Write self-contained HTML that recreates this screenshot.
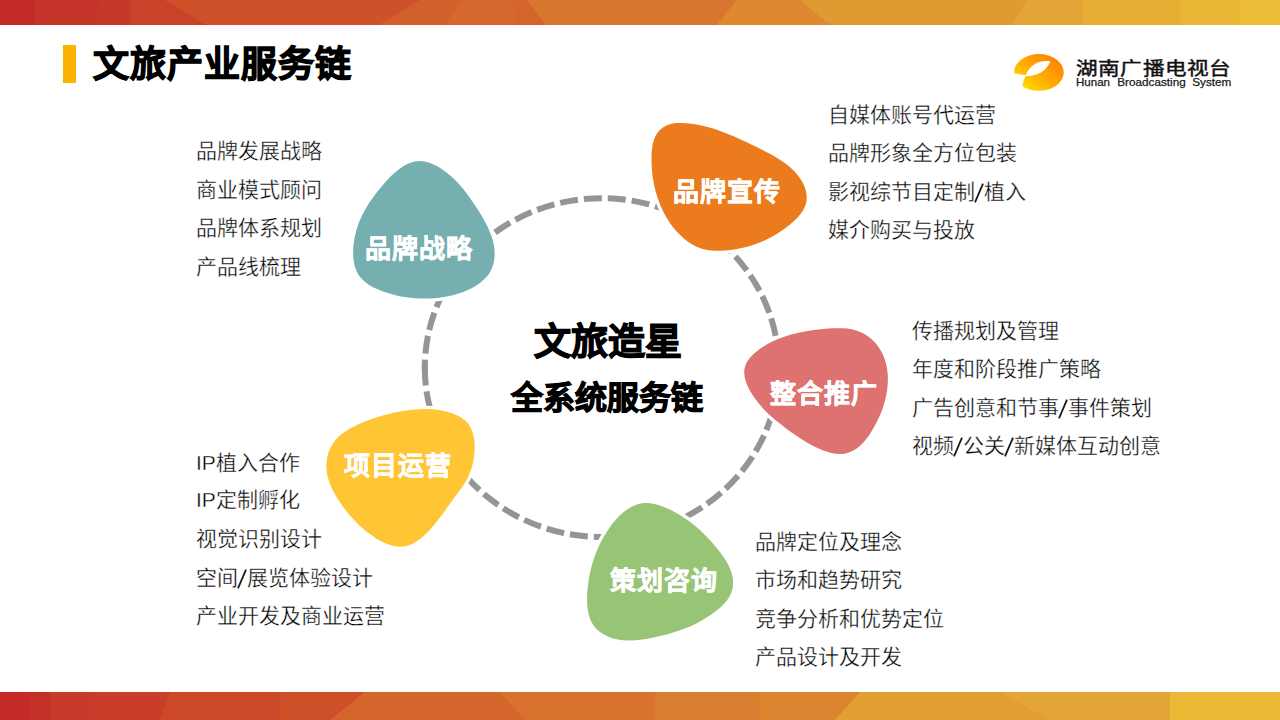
<!DOCTYPE html>
<html lang="zh-CN"><head><meta charset="utf-8"><title>文旅产业服务链</title>
<style>
html,body{margin:0;padding:0;}
body{width:1280px;height:720px;overflow:hidden;position:relative;background:#fff;font-family:"Liberation Sans",sans-serif;color:#111;}
.band{position:absolute;left:0;width:1280px;overflow:hidden;}
.li{position:absolute;font-size:21px;line-height:1.3;white-space:nowrap;color:#000;-webkit-text-stroke:0.35px #fff;}
.lb{position:absolute;font-size:26px;letter-spacing:1px;line-height:1.3;white-space:nowrap;color:#fff;font-weight:bold;-webkit-text-stroke:0.5px #fff;}
.sl{display:inline-block;width:9px;height:0;position:relative;}
.sl svg{position:absolute;left:-1px;top:-16px;}
.bt{position:absolute;left:0;font-weight:bold;line-height:1.3;color:#000;white-space:nowrap;}
svg{position:absolute;left:0;top:0;}
</style></head><body>
<svg width="1280" height="720" viewBox="0 0 1280 720" style="position:absolute;left:0;top:0" shape-rendering="crispEdges"><polygon points="0,0 36,0 36,24.5 0,24.5" fill="#C42B27"/><polygon points="35,0 101,0 96,24.5 35,24.5" fill="#C6352A"/><polygon points="100,0 131,0 131,24.5 95,24.5" fill="#C6392A"/><polygon points="130,0 166,0 206,24.5 130,24.5" fill="#C8432A"/><polygon points="165,0 421,0 381,24.5 205,24.5" fill="#CF5129"/><polygon points="420,0 463,0 446,24.5 380,24.5" fill="#D2602B"/><polygon points="462,0 512,0 517,24.5 445,24.5" fill="#D5682C"/><polygon points="511,0 528,0 546,24.5 516,24.5" fill="#D3652B"/><polygon points="527,0 738,0 718,24.5 545,24.5" fill="#D8752E"/><polygon points="737,0 801,0 831,24.5 717,24.5" fill="#DE8830"/><polygon points="800,0 1028,0 1014,24.5 830,24.5" fill="#E09A32"/><polygon points="1027,0 1084,0 1084,24.5 1013,24.5" fill="#E3A535"/><polygon points="1083,0 1181,0 1181,24.5 1083,24.5" fill="#E6AE34"/><polygon points="1180,0 1241,0 1241,24.5 1180,24.5" fill="#E9B735"/><polygon points="1240,0 1281,0 1281,24.5 1240,24.5" fill="#EBBC35"/></svg><svg width="1280" height="720" viewBox="0 0 1280 720" style="position:absolute;left:0;top:0" shape-rendering="crispEdges"><polygon points="0,692 31,692 31,720 0,720" fill="#C42B28"/><polygon points="30,692 51,692 51,720 30,720" fill="#C23028"/><polygon points="50,692 91,692 91,720 50,720" fill="#C83A2A"/><polygon points="90,692 171,692 161,720 90,720" fill="#C93E2A"/><polygon points="170,692 281,692 281,720 160,720" fill="#CC4A2A"/><polygon points="280,692 366,692 331,720 280,720" fill="#CE5029"/><polygon points="365,692 501,692 526,720 330,720" fill="#D4652B"/><polygon points="500,692 656,692 656,720 525,720" fill="#D7732D"/><polygon points="655,692 761,692 761,720 655,720" fill="#D97E30"/><polygon points="760,692 861,692 836,720 760,720" fill="#DC8530"/><polygon points="860,692 1001,692 1051,720 835,720" fill="#E29D33"/><polygon points="1000,692 1171,692 1171,720 1050,720" fill="#E3A535"/><polygon points="1170,692 1281,692 1281,720 1170,720" fill="#EAB935"/></svg>
<div style="position:absolute;left:63px;top:45px;width:13px;height:37.7px;background:#FDB100;"></div>
<div class="bt" style="left:93px;top:41.8px;font-size:36px;letter-spacing:1px;-webkit-text-stroke:1.2px #000;">文旅产业服务链</div>
<svg width="1280" height="720" viewBox="0 0 1280 720" style="position:absolute;left:0;top:0">
<defs><linearGradient id="lg" x1="1" y1="0" x2="0" y2="1"><stop offset="0" stop-color="#FF7400"/><stop offset="0.5" stop-color="#FFA800"/><stop offset="1" stop-color="#FFEF00"/></linearGradient></defs>
<ellipse cx="1038.9" cy="72.4" rx="24.8" ry="18.4" fill="url(#lg)"/>
<path d="M1050.5,61.3 C1044,60.2 1037,61.5 1031.5,66.5 C1028.5,69.5 1026.8,72.5 1025.6,75.3 L1014,73.2 L1008,72 L1008,92 L1022.4,86 C1023,82 1024,79 1025.3,76.2 C1030,76.3 1036,75.3 1041,72.5 C1045.5,69.8 1048.5,65.5 1050.5,61.3 Z" fill="#fff"/>
<text x="1076" y="75.2" font-size="18.5" textLength="155.4" lengthAdjust="spacingAndGlyphs" fill="#111" stroke="#111" stroke-width="0.45">湖南广播电视台</text>
<text x="1076" y="85.6" font-size="10.5" textLength="34" lengthAdjust="spacingAndGlyphs" fill="#1a1a1a" stroke="#1a1a1a" stroke-width="0.25">Hunan</text>
<text x="1117.3" y="85.6" font-size="10.5" textLength="68.4" lengthAdjust="spacingAndGlyphs" fill="#1a1a1a" stroke="#1a1a1a" stroke-width="0.25">Broadcasting</text>
<text x="1192.2" y="85.6" font-size="10.5" textLength="39.2" lengthAdjust="spacingAndGlyphs" fill="#1a1a1a" stroke="#1a1a1a" stroke-width="0.25">System</text>
</svg>
<svg width="1280" height="720" viewBox="0 0 1280 720">
<g fill="none" stroke="#959595" stroke-width="6" stroke-dasharray="18 6"><path d="M778.8,367.6 A177,169.4 0 0 1 424.8,367.6" stroke-dashoffset="2"/><path d="M424.8,367.6 A177,169.4 0 0 1 778.8,367.6" stroke-dashoffset="10"/><path d="M424.8,365.1 L424.8,370.1" stroke-dasharray="none"/></g>
<path d="M420.2,161.0 L424.7,161.5 L429.2,162.7 L433.7,164.5 L438.1,166.8 L442.4,169.6 L446.5,172.6 L450.4,175.8 L454.1,179.1 L457.5,182.5 L460.6,186.0 L463.7,189.6 L466.5,193.3 L469.3,197.0 L472.0,200.9 L474.7,204.9 L477.4,209.0 L480.1,213.2 L482.7,217.5 L485.1,221.9 L487.4,226.4 L489.5,230.9 L491.2,235.5 L492.7,240.1 L493.8,244.8 L494.5,249.5 L494.7,254.2 L494.4,259.0 L493.5,263.6 L492.0,268.1 L490.0,272.3 L487.2,276.2 L483.9,279.6 L480.2,282.7 L476.3,285.5 L472.1,287.9 L467.8,290.1 L463.3,292.0 L458.6,293.6 L453.9,295.0 L449.1,296.1 L444.2,297.0 L439.3,297.7 L434.4,298.2 L429.5,298.5 L424.7,298.6 L419.9,298.5 L415.2,298.2 L410.6,297.8 L405.9,297.2 L401.3,296.4 L396.6,295.4 L391.9,294.2 L387.1,292.8 L382.3,291.2 L377.6,289.3 L373.0,287.2 L368.7,284.7 L364.8,281.8 L361.4,278.6 L358.6,274.9 L356.5,270.9 L354.9,266.5 L353.8,261.8 L353.3,257.0 L353.1,252.0 L353.3,247.1 L353.9,242.1 L354.7,237.3 L355.8,232.6 L357.1,228.0 L358.6,223.5 L360.3,219.2 L362.3,214.9 L364.5,210.8 L366.8,206.7 L369.3,202.6 L372.1,198.7 L375.0,194.7 L378.0,190.8 L381.2,186.9 L384.6,183.1 L388.0,179.3 L391.6,175.6 L395.4,172.2 L399.3,169.0 L403.2,166.3 L407.3,164.1 L411.5,162.4 L415.8,161.3Z" fill="#fff" stroke="#fff" stroke-width="6.5" stroke-linejoin="round"/><path d="M420.2,161.0 L424.7,161.5 L429.2,162.7 L433.7,164.5 L438.1,166.8 L442.4,169.6 L446.5,172.6 L450.4,175.8 L454.1,179.1 L457.5,182.5 L460.6,186.0 L463.7,189.6 L466.5,193.3 L469.3,197.0 L472.0,200.9 L474.7,204.9 L477.4,209.0 L480.1,213.2 L482.7,217.5 L485.1,221.9 L487.4,226.4 L489.5,230.9 L491.2,235.5 L492.7,240.1 L493.8,244.8 L494.5,249.5 L494.7,254.2 L494.4,259.0 L493.5,263.6 L492.0,268.1 L490.0,272.3 L487.2,276.2 L483.9,279.6 L480.2,282.7 L476.3,285.5 L472.1,287.9 L467.8,290.1 L463.3,292.0 L458.6,293.6 L453.9,295.0 L449.1,296.1 L444.2,297.0 L439.3,297.7 L434.4,298.2 L429.5,298.5 L424.7,298.6 L419.9,298.5 L415.2,298.2 L410.6,297.8 L405.9,297.2 L401.3,296.4 L396.6,295.4 L391.9,294.2 L387.1,292.8 L382.3,291.2 L377.6,289.3 L373.0,287.2 L368.7,284.7 L364.8,281.8 L361.4,278.6 L358.6,274.9 L356.5,270.9 L354.9,266.5 L353.8,261.8 L353.3,257.0 L353.1,252.0 L353.3,247.1 L353.9,242.1 L354.7,237.3 L355.8,232.6 L357.1,228.0 L358.6,223.5 L360.3,219.2 L362.3,214.9 L364.5,210.8 L366.8,206.7 L369.3,202.6 L372.1,198.7 L375.0,194.7 L378.0,190.8 L381.2,186.9 L384.6,183.1 L388.0,179.3 L391.6,175.6 L395.4,172.2 L399.3,169.0 L403.2,166.3 L407.3,164.1 L411.5,162.4 L415.8,161.3Z" fill="#75AFAF"/>
<path d="M681.4,123.0 L686.5,123.2 L691.6,123.7 L696.6,124.5 L701.6,125.5 L706.5,126.7 L711.4,128.1 L716.1,129.6 L720.8,131.2 L725.3,132.9 L729.8,134.7 L734.2,136.6 L738.6,138.5 L742.9,140.5 L747.3,142.5 L751.7,144.7 L756.2,146.8 L760.7,149.1 L765.3,151.4 L769.8,153.8 L774.3,156.3 L778.7,158.9 L783.0,161.7 L787.1,164.7 L790.9,167.9 L794.4,171.3 L797.6,175.0 L800.5,178.9 L802.9,183.1 L804.9,187.6 L806.2,192.2 L806.8,196.8 L806.5,201.4 L805.3,205.8 L803.3,210.1 L800.5,214.1 L797.2,218.0 L793.4,221.6 L789.4,225.1 L785.2,228.3 L780.9,231.2 L776.7,234.0 L772.3,236.5 L768.0,238.8 L763.5,240.9 L759.0,242.7 L754.5,244.4 L749.9,245.9 L745.2,247.2 L740.4,248.3 L735.6,249.2 L730.7,249.9 L725.7,250.5 L720.7,250.8 L715.7,250.8 L710.7,250.5 L705.9,249.7 L701.1,248.5 L696.6,246.7 L692.2,244.5 L688.0,241.8 L684.1,238.7 L680.4,235.3 L676.9,231.7 L673.6,227.9 L670.6,223.9 L667.9,219.8 L665.3,215.5 L663.1,211.2 L661.0,206.7 L659.1,202.1 L657.5,197.5 L656.0,192.8 L654.8,188.0 L653.8,183.2 L652.9,178.4 L652.3,173.6 L651.8,168.7 L651.6,163.6 L651.5,158.5 L651.6,153.3 L652.1,148.2 L652.9,143.1 L654.4,138.4 L656.5,134.2 L659.3,130.5 L662.8,127.5 L666.9,125.2 L671.4,123.8 L676.3,123.1Z" fill="#fff" stroke="#fff" stroke-width="6.5" stroke-linejoin="round"/><path d="M681.4,123.0 L686.5,123.2 L691.6,123.7 L696.6,124.5 L701.6,125.5 L706.5,126.7 L711.4,128.1 L716.1,129.6 L720.8,131.2 L725.3,132.9 L729.8,134.7 L734.2,136.6 L738.6,138.5 L742.9,140.5 L747.3,142.5 L751.7,144.7 L756.2,146.8 L760.7,149.1 L765.3,151.4 L769.8,153.8 L774.3,156.3 L778.7,158.9 L783.0,161.7 L787.1,164.7 L790.9,167.9 L794.4,171.3 L797.6,175.0 L800.5,178.9 L802.9,183.1 L804.9,187.6 L806.2,192.2 L806.8,196.8 L806.5,201.4 L805.3,205.8 L803.3,210.1 L800.5,214.1 L797.2,218.0 L793.4,221.6 L789.4,225.1 L785.2,228.3 L780.9,231.2 L776.7,234.0 L772.3,236.5 L768.0,238.8 L763.5,240.9 L759.0,242.7 L754.5,244.4 L749.9,245.9 L745.2,247.2 L740.4,248.3 L735.6,249.2 L730.7,249.9 L725.7,250.5 L720.7,250.8 L715.7,250.8 L710.7,250.5 L705.9,249.7 L701.1,248.5 L696.6,246.7 L692.2,244.5 L688.0,241.8 L684.1,238.7 L680.4,235.3 L676.9,231.7 L673.6,227.9 L670.6,223.9 L667.9,219.8 L665.3,215.5 L663.1,211.2 L661.0,206.7 L659.1,202.1 L657.5,197.5 L656.0,192.8 L654.8,188.0 L653.8,183.2 L652.9,178.4 L652.3,173.6 L651.8,168.7 L651.6,163.6 L651.5,158.5 L651.6,153.3 L652.1,148.2 L652.9,143.1 L654.4,138.4 L656.5,134.2 L659.3,130.5 L662.8,127.5 L666.9,125.2 L671.4,123.8 L676.3,123.1Z" fill="#EC7B1E"/>
<path d="M823.4,329.0 L828.2,328.6 L833.0,328.3 L837.8,328.2 L842.5,328.2 L847.2,328.6 L851.7,329.3 L856.1,330.4 L860.4,331.9 L864.4,334.0 L868.3,336.5 L871.9,339.5 L875.2,342.8 L878.1,346.5 L880.7,350.5 L882.9,354.6 L884.6,359.0 L886.0,363.4 L886.9,368.0 L887.6,372.7 L887.9,377.4 L887.8,382.1 L887.5,386.8 L886.9,391.5 L886.1,396.1 L885.0,400.6 L883.8,405.0 L882.3,409.4 L880.6,413.7 L878.7,418.0 L876.6,422.2 L874.4,426.4 L872.0,430.6 L869.5,434.7 L866.7,438.6 L863.7,442.3 L860.3,445.6 L856.7,448.4 L852.9,450.8 L848.8,452.6 L844.5,453.7 L840.1,454.1 L835.6,453.8 L831.1,452.9 L826.5,451.6 L822.0,449.9 L817.6,448.0 L813.3,445.9 L809.1,443.7 L804.9,441.3 L800.8,438.8 L796.9,436.1 L793.0,433.4 L789.2,430.7 L785.4,427.9 L781.8,425.1 L778.2,422.3 L774.7,419.4 L771.3,416.5 L768.0,413.4 L764.7,410.2 L761.6,406.8 L758.6,403.2 L755.6,399.3 L752.8,395.2 L750.1,390.9 L747.8,386.4 L746.0,381.9 L744.7,377.3 L744.2,372.9 L744.5,368.7 L745.7,364.6 L747.7,360.8 L750.4,357.3 L753.6,353.9 L757.2,350.9 L761.1,348.0 L765.1,345.5 L769.3,343.1 L773.5,341.0 L777.8,339.1 L782.1,337.4 L786.5,335.9 L791.0,334.6 L795.5,333.5 L800.0,332.4 L804.6,331.6 L809.3,330.8 L814.0,330.1 L818.7,329.5Z" fill="#fff" stroke="#fff" stroke-width="6.5" stroke-linejoin="round"/><path d="M823.4,329.0 L828.2,328.6 L833.0,328.3 L837.8,328.2 L842.5,328.2 L847.2,328.6 L851.7,329.3 L856.1,330.4 L860.4,331.9 L864.4,334.0 L868.3,336.5 L871.9,339.5 L875.2,342.8 L878.1,346.5 L880.7,350.5 L882.9,354.6 L884.6,359.0 L886.0,363.4 L886.9,368.0 L887.6,372.7 L887.9,377.4 L887.8,382.1 L887.5,386.8 L886.9,391.5 L886.1,396.1 L885.0,400.6 L883.8,405.0 L882.3,409.4 L880.6,413.7 L878.7,418.0 L876.6,422.2 L874.4,426.4 L872.0,430.6 L869.5,434.7 L866.7,438.6 L863.7,442.3 L860.3,445.6 L856.7,448.4 L852.9,450.8 L848.8,452.6 L844.5,453.7 L840.1,454.1 L835.6,453.8 L831.1,452.9 L826.5,451.6 L822.0,449.9 L817.6,448.0 L813.3,445.9 L809.1,443.7 L804.9,441.3 L800.8,438.8 L796.9,436.1 L793.0,433.4 L789.2,430.7 L785.4,427.9 L781.8,425.1 L778.2,422.3 L774.7,419.4 L771.3,416.5 L768.0,413.4 L764.7,410.2 L761.6,406.8 L758.6,403.2 L755.6,399.3 L752.8,395.2 L750.1,390.9 L747.8,386.4 L746.0,381.9 L744.7,377.3 L744.2,372.9 L744.5,368.7 L745.7,364.6 L747.7,360.8 L750.4,357.3 L753.6,353.9 L757.2,350.9 L761.1,348.0 L765.1,345.5 L769.3,343.1 L773.5,341.0 L777.8,339.1 L782.1,337.4 L786.5,335.9 L791.0,334.6 L795.5,333.5 L800.0,332.4 L804.6,331.6 L809.3,330.8 L814.0,330.1 L818.7,329.5Z" fill="#DD7271"/>
<path d="M411.6,409.8 L416.5,409.4 L421.5,409.1 L426.6,409.1 L431.7,409.3 L436.8,409.8 L441.8,410.6 L446.8,411.7 L451.6,413.1 L456.3,414.9 L460.7,417.2 L464.6,419.9 L467.8,423.2 L470.3,427.0 L472.2,431.3 L473.6,435.9 L474.4,440.8 L474.7,445.8 L474.6,451.0 L474.1,456.1 L473.3,461.2 L472.2,466.1 L470.7,470.8 L468.9,475.4 L466.7,479.7 L464.2,483.9 L461.5,487.9 L458.6,491.9 L455.7,495.7 L452.9,499.6 L450.1,503.4 L447.4,507.3 L444.6,511.2 L441.7,515.2 L438.6,519.3 L435.3,523.4 L431.9,527.5 L428.4,531.4 L424.6,535.1 L420.8,538.4 L416.7,541.3 L412.6,543.7 L408.3,545.5 L403.8,546.5 L399.3,546.8 L394.7,546.3 L390.0,545.0 L385.3,543.2 L380.7,540.9 L376.3,538.4 L372.1,535.6 L368.0,532.7 L364.2,529.7 L360.5,526.5 L357.0,523.1 L353.6,519.6 L350.3,515.9 L347.2,512.1 L344.1,508.2 L341.2,504.1 L338.3,499.9 L335.7,495.5 L333.2,491.1 L331.1,486.6 L329.3,482.0 L327.8,477.3 L326.8,472.6 L326.3,467.8 L326.4,462.9 L327.0,458.1 L328.2,453.3 L330.0,448.7 L332.3,444.4 L335.1,440.4 L338.5,436.8 L342.3,433.6 L346.4,430.8 L350.6,428.2 L355.1,425.9 L359.6,423.7 L364.2,421.7 L368.9,419.9 L373.6,418.3 L378.4,416.8 L383.1,415.5 L387.9,414.2 L392.6,413.1 L397.3,412.1 L402.0,411.2 L406.8,410.4Z" fill="#fff" stroke="#fff" stroke-width="6.5" stroke-linejoin="round"/><path d="M411.6,409.8 L416.5,409.4 L421.5,409.1 L426.6,409.1 L431.7,409.3 L436.8,409.8 L441.8,410.6 L446.8,411.7 L451.6,413.1 L456.3,414.9 L460.7,417.2 L464.6,419.9 L467.8,423.2 L470.3,427.0 L472.2,431.3 L473.6,435.9 L474.4,440.8 L474.7,445.8 L474.6,451.0 L474.1,456.1 L473.3,461.2 L472.2,466.1 L470.7,470.8 L468.9,475.4 L466.7,479.7 L464.2,483.9 L461.5,487.9 L458.6,491.9 L455.7,495.7 L452.9,499.6 L450.1,503.4 L447.4,507.3 L444.6,511.2 L441.7,515.2 L438.6,519.3 L435.3,523.4 L431.9,527.5 L428.4,531.4 L424.6,535.1 L420.8,538.4 L416.7,541.3 L412.6,543.7 L408.3,545.5 L403.8,546.5 L399.3,546.8 L394.7,546.3 L390.0,545.0 L385.3,543.2 L380.7,540.9 L376.3,538.4 L372.1,535.6 L368.0,532.7 L364.2,529.7 L360.5,526.5 L357.0,523.1 L353.6,519.6 L350.3,515.9 L347.2,512.1 L344.1,508.2 L341.2,504.1 L338.3,499.9 L335.7,495.5 L333.2,491.1 L331.1,486.6 L329.3,482.0 L327.8,477.3 L326.8,472.6 L326.3,467.8 L326.4,462.9 L327.0,458.1 L328.2,453.3 L330.0,448.7 L332.3,444.4 L335.1,440.4 L338.5,436.8 L342.3,433.6 L346.4,430.8 L350.6,428.2 L355.1,425.9 L359.6,423.7 L364.2,421.7 L368.9,419.9 L373.6,418.3 L378.4,416.8 L383.1,415.5 L387.9,414.2 L392.6,413.1 L397.3,412.1 L402.0,411.2 L406.8,410.4Z" fill="#FFC535"/>
<path d="M643.8,503.1 L648.5,503.1 L653.4,503.8 L658.3,505.0 L663.2,506.7 L668.0,508.7 L672.8,511.0 L677.3,513.6 L681.7,516.2 L685.8,518.9 L689.7,521.6 L693.4,524.5 L697.0,527.5 L700.5,530.6 L703.9,533.9 L707.2,537.2 L710.5,540.8 L713.8,544.5 L717.1,548.4 L720.3,552.5 L723.3,556.7 L726.1,561.0 L728.6,565.4 L730.6,570.0 L732.0,574.6 L732.9,579.2 L733.1,583.9 L732.6,588.5 L731.2,593.0 L729.2,597.3 L726.3,601.3 L722.9,604.9 L719.2,608.4 L715.3,611.5 L711.2,614.5 L707.1,617.3 L702.9,619.8 L698.7,622.2 L694.3,624.4 L689.9,626.4 L685.4,628.3 L680.8,630.0 L676.2,631.6 L671.5,633.0 L666.8,634.4 L662.0,635.6 L657.2,636.7 L652.3,637.7 L647.4,638.7 L642.5,639.5 L637.6,640.1 L632.7,640.5 L627.7,640.6 L622.8,640.3 L617.9,639.6 L613.1,638.4 L608.4,636.7 L604.0,634.6 L599.9,631.9 L596.4,628.9 L593.4,625.3 L591.1,621.3 L589.4,616.9 L588.2,612.3 L587.4,607.4 L587.1,602.4 L587.1,597.2 L587.3,592.0 L587.8,586.9 L588.4,581.9 L589.2,577.0 L590.2,572.1 L591.3,567.4 L592.6,562.7 L594.0,558.2 L595.6,553.7 L597.5,549.2 L599.5,544.8 L601.7,540.5 L604.1,536.2 L606.7,531.9 L609.5,527.7 L612.5,523.6 L615.8,519.7 L619.2,516.0 L622.8,512.7 L626.7,509.7 L630.7,507.2 L634.9,505.2 L639.3,503.8Z" fill="#fff" stroke="#fff" stroke-width="6.5" stroke-linejoin="round"/><path d="M643.8,503.1 L648.5,503.1 L653.4,503.8 L658.3,505.0 L663.2,506.7 L668.0,508.7 L672.8,511.0 L677.3,513.6 L681.7,516.2 L685.8,518.9 L689.7,521.6 L693.4,524.5 L697.0,527.5 L700.5,530.6 L703.9,533.9 L707.2,537.2 L710.5,540.8 L713.8,544.5 L717.1,548.4 L720.3,552.5 L723.3,556.7 L726.1,561.0 L728.6,565.4 L730.6,570.0 L732.0,574.6 L732.9,579.2 L733.1,583.9 L732.6,588.5 L731.2,593.0 L729.2,597.3 L726.3,601.3 L722.9,604.9 L719.2,608.4 L715.3,611.5 L711.2,614.5 L707.1,617.3 L702.9,619.8 L698.7,622.2 L694.3,624.4 L689.9,626.4 L685.4,628.3 L680.8,630.0 L676.2,631.6 L671.5,633.0 L666.8,634.4 L662.0,635.6 L657.2,636.7 L652.3,637.7 L647.4,638.7 L642.5,639.5 L637.6,640.1 L632.7,640.5 L627.7,640.6 L622.8,640.3 L617.9,639.6 L613.1,638.4 L608.4,636.7 L604.0,634.6 L599.9,631.9 L596.4,628.9 L593.4,625.3 L591.1,621.3 L589.4,616.9 L588.2,612.3 L587.4,607.4 L587.1,602.4 L587.1,597.2 L587.3,592.0 L587.8,586.9 L588.4,581.9 L589.2,577.0 L590.2,572.1 L591.3,567.4 L592.6,562.7 L594.0,558.2 L595.6,553.7 L597.5,549.2 L599.5,544.8 L601.7,540.5 L604.1,536.2 L606.7,531.9 L609.5,527.7 L612.5,523.6 L615.8,519.7 L619.2,516.0 L622.8,512.7 L626.7,509.7 L630.7,507.2 L634.9,505.2 L639.3,503.8Z" fill="#97C475"/>
</svg>
<div class="bt" style="left:534px;top:319px;font-size:37px;-webkit-text-stroke:1.2px #000;">文旅造星</div>
<div class="bt" style="left:511px;top:378px;font-size:32px;-webkit-text-stroke:1.1px #000;">全系统服务链</div>
<div class="lb" style="left:365.0px;top:232.5px">品牌战略</div>
<div class="lb" style="left:673.0px;top:175.5px">品牌宣传</div>
<div class="lb" style="left:770.0px;top:377.5px">整合推广</div>
<div class="lb" style="left:344.3px;top:450.4px">项目运营</div>
<div class="lb" style="left:610.0px;top:565.2px">策划咨询</div>

<div class="li" style="left:196px;top:137.0px">品牌发展战略</div>
<div class="li" style="left:196px;top:176.0px">商业模式顾问</div>
<div class="li" style="left:196px;top:214.0px">品牌体系规划</div>
<div class="li" style="left:196px;top:253.0px">产品线梳理</div>
<div class="li" style="left:828px;top:100.5px">自媒体账号代运营</div>
<div class="li" style="left:828px;top:139.0px">品牌形象全方位包装</div>
<div class="li" style="left:828px;top:178.0px">影视综节目定制<span class="sl"><svg width="10" height="20" viewBox="0 0 10 20"><line x1="1" y1="19.3" x2="9" y2="0.7" stroke="#1a1a1a" stroke-width="1.8"/></svg></span>植入</div>
<div class="li" style="left:828px;top:216.0px">媒介购买与投放</div>
<div class="li" style="left:912px;top:317.0px">传播规划及管理</div>
<div class="li" style="left:912px;top:355.0px">年度和阶段推广策略</div>
<div class="li" style="left:912px;top:394.0px">广告创意和节事<span class="sl"><svg width="10" height="20" viewBox="0 0 10 20"><line x1="1" y1="19.3" x2="9" y2="0.7" stroke="#1a1a1a" stroke-width="1.8"/></svg></span>事件策划</div>
<div class="li" style="left:912px;top:432.0px">视频<span class="sl"><svg width="10" height="20" viewBox="0 0 10 20"><line x1="1" y1="19.3" x2="9" y2="0.7" stroke="#1a1a1a" stroke-width="1.8"/></svg></span>公关<span class="sl"><svg width="10" height="20" viewBox="0 0 10 20"><line x1="1" y1="19.3" x2="9" y2="0.7" stroke="#1a1a1a" stroke-width="1.8"/></svg></span>新媒体互动创意</div>
<div class="li" style="left:196px;top:449.0px">IP植入合作</div>
<div class="li" style="left:196px;top:486.0px">IP定制孵化</div>
<div class="li" style="left:196px;top:525.0px">视觉识别设计</div>
<div class="li" style="left:196px;top:564.0px">空间<span class="sl"><svg width="10" height="20" viewBox="0 0 10 20"><line x1="1" y1="19.3" x2="9" y2="0.7" stroke="#1a1a1a" stroke-width="1.8"/></svg></span>展览体验设计</div>
<div class="li" style="left:196px;top:602.0px">产业开发及商业运营</div>
<div class="li" style="left:755px;top:528.0px">品牌定位及理念</div>
<div class="li" style="left:755px;top:566.0px">市场和趋势研究</div>
<div class="li" style="left:755px;top:605.0px">竞争分析和优势定位</div>
<div class="li" style="left:755px;top:643.0px">产品设计及开发</div>

</body></html>
